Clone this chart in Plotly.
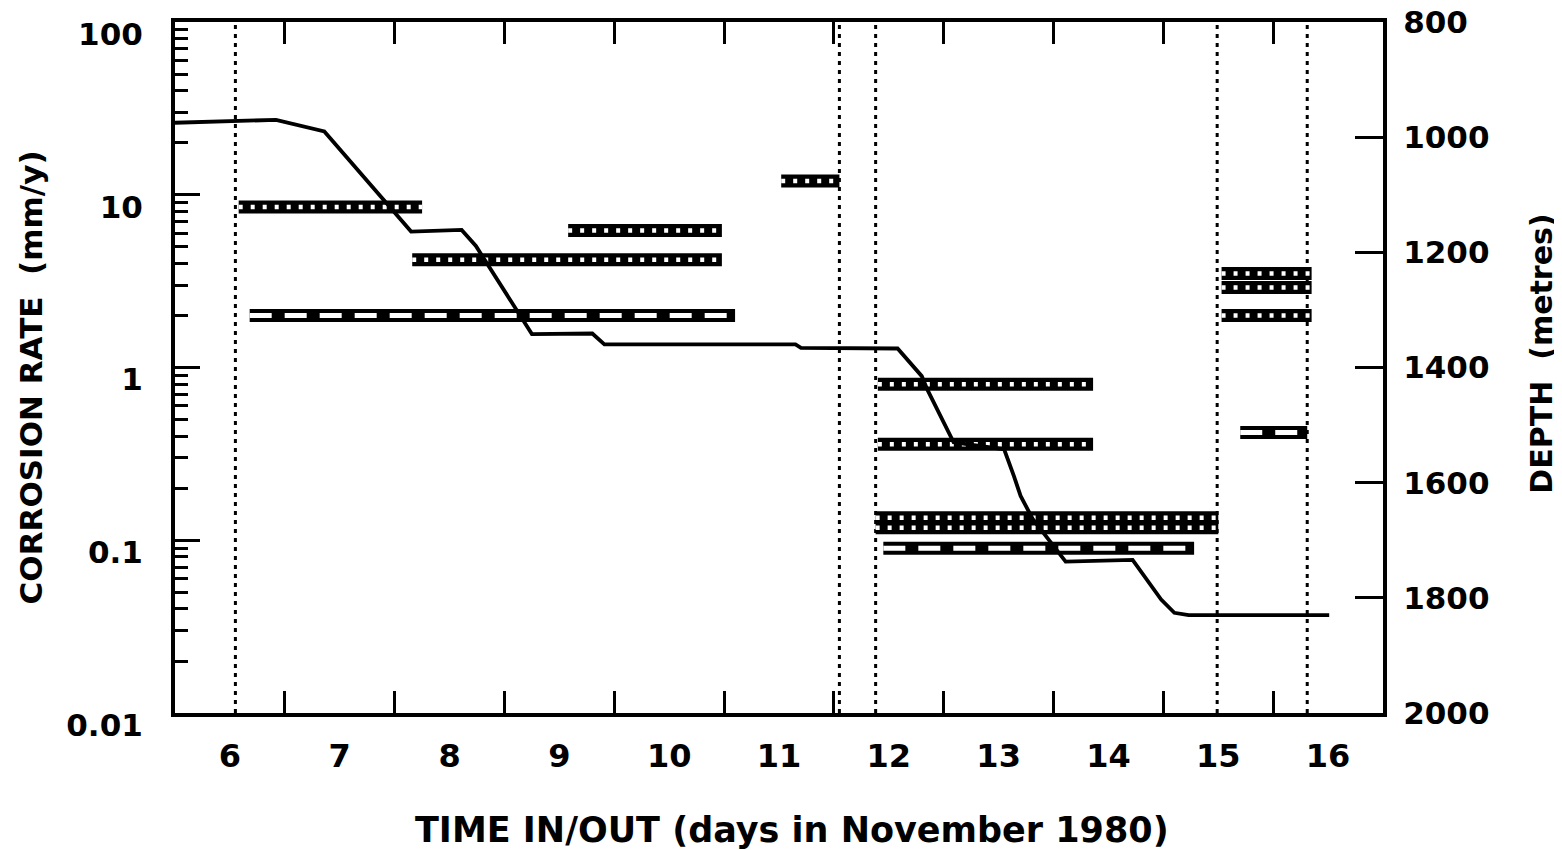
import plotly.graph_objects as go

# ---- axis labels / ticks ----
days = list(range(6, 17))
day_labels = [str(d) for d in days]
day_boundaries = [d + 0.5 for d in range(6, 16)]

rate_ticks = [0.01, 0.1, 1, 10, 100]
rate_labels = ["0.01", "0.1", "1", "10", "100"]
rate_minor = [m * 10 ** e for e in range(-2, 2) for m in range(2, 10)]
depth_ticks = [800, 1000, 1200, 1400, 1600, 1800, 2000]
depth_labels = [str(d) for d in depth_ticks]

x_title = "TIME IN/OUT (days in November 1980)"
y_title = "CORROSION RATE\u00a0\u00a0(mm/y)"
y2_title = "DEPTH\u00a0\u00a0(metres)"

# ---- time in / out markers ----
in_out_times = [6.05, 11.55, 11.88, 14.99, 15.81]

# ---- depth of probe (right axis) ----
depth_time = [5.5, 6.42, 6.86, 7.65, 8.11, 8.24, 8.75, 9.30, 9.41, 11.15, 11.20,
              12.08, 12.30, 12.35, 12.59, 13.05, 13.14, 13.20, 13.31, 13.61,
              14.22, 14.39, 14.48, 14.60, 14.73, 16.01]
depth_m = [975, 970, 990, 1164, 1161, 1189, 1342, 1341, 1360, 1360, 1366,
           1367, 1415, 1438, 1530, 1542, 1589, 1623, 1663, 1737,
           1734, 1781, 1803, 1826, 1830, 1830]

# ---- corrosion rate exposures, stippled coupons ----
dotted_start = [6.08, 7.66, 9.08, 11.02, 11.90, 11.90, 11.88, 11.88, 15.03, 15.03, 15.03]
dotted_end = [7.75, 10.48, 10.48, 11.55, 13.86, 13.86, 15.00, 15.00, 15.85, 15.85, 15.85]
dotted_rate = [8.5, 4.2, 6.2, 12.0, 0.80, 0.36, 0.135, 0.118, 3.5, 2.9, 2.0]

# ---- corrosion rate exposures, hatched coupons ----
hatched_start = [6.18, 11.95, 15.20]
hatched_end = [10.60, 14.78, 15.81]
hatched_rate = [2.0, 0.09, 0.42]


def segs(starts, ends, vals):
    xs, ys = [], []
    for s, e, v in zip(starts, ends, vals):
        xs += [s, e, None]
        ys += [v, v, None]
    return xs, ys


fig = go.Figure()

for t in in_out_times:
    fig.add_vline(x=t, line=dict(color="black", width=3, dash="4px,5px"), layer="below")

dx, dy = segs(dotted_start, dotted_end, dotted_rate)
fig.add_trace(go.Scatter(x=dx, y=dy, mode="lines", line=dict(color="black", width=13),
                         showlegend=False, hoverinfo="skip"))
fig.add_trace(go.Scatter(x=dx, y=dy, mode="lines", line=dict(color="white", width=4.5, dash="4px,8px"),
                         showlegend=False, hoverinfo="skip"))

hx, hy = segs(hatched_start, hatched_end, hatched_rate)
fig.add_trace(go.Scatter(x=hx, y=hy, mode="lines", line=dict(color="black", width=13),
                         showlegend=False, hoverinfo="skip"))
fig.add_trace(go.Scatter(x=hx, y=hy, mode="lines", line=dict(color="white", width=5, dash="22px,13px"),
                         showlegend=False, hoverinfo="skip"))

fig.add_trace(go.Scatter(x=depth_time, y=depth_m, mode="lines", yaxis="y2",
                         line=dict(color="black", width=3.8), showlegend=False))

bold = dict(family="DejaVu Sans", color="black", weight="bold")

# axis titles, placed as paper-referenced annotations
fig.add_annotation(text=x_title, xref="paper", yref="paper", x=0.511, y=-0.169,
                   xanchor="center", yanchor="middle", showarrow=False,
                   font=dict(size=35, **bold))
fig.add_annotation(text=y_title, xref="paper", yref="paper", x=-0.119, y=0.486,
                   xanchor="center", yanchor="middle", showarrow=False, textangle=-90,
                   font=dict(size=31, **bold))
fig.add_annotation(text=y2_title, xref="paper", yref="paper", x=1.1316, y=0.52,
                   xanchor="center", yanchor="middle", showarrow=False, textangle=-90,
                   font=dict(size=30, **bold))

# the page body adds an 8px margin, so the figure is sized/margined to compensate
fig.update_layout(
    width=1554, height=842,
    margin=dict(l=167, r=179, t=14, b=137),
    paper_bgcolor="white", plot_bgcolor="white",
    font=dict(family="DejaVu Sans", color="black"),
    xaxis=dict(
        range=[5.5, 16.5], tickvals=days, ticktext=day_labels, ticks="", ticklen=0,
        showline=True, linewidth=4, linecolor="black", mirror="ticks", automargin=False,
        showgrid=False, zeroline=False, ticklabelstandoff=12,
        tickfont=dict(size=32, **bold),
        minor=dict(tickvals=day_boundaries, ticks="inside", ticklen=22, tickwidth=3,
                   tickcolor="black", showgrid=False),
    ),
    yaxis=dict(
        type="log", range=[-2, 2], tickvals=rate_ticks, ticktext=rate_labels,
        ticks="inside", ticklen=25, tickwidth=3, tickcolor="black", automargin=False,
        showline=True, linewidth=4, linecolor="black", mirror=False,
        showgrid=False, zeroline=False, ticklabelstandoff=22, ticklabelshift=12,
        ticklabeloverflow="allow",
        tickfont=dict(size=31, **bold),
        minor=dict(tickvals=rate_minor, ticks="inside", ticklen=13, tickwidth=3,
                   tickcolor="black", showgrid=False),
    ),
    yaxis2=dict(
        overlaying="y", side="right", range=[2000, 800], tickvals=depth_ticks, ticktext=depth_labels,
        ticks="inside", ticklen=28, tickwidth=3, tickcolor="black", automargin=False,
        showline=True, linewidth=4, linecolor="black",
        showgrid=False, zeroline=False, ticklabelstandoff=10, ticklabeloverflow="allow",
        tickfont=dict(size=31, **bold),
    ),
)

fig.write_html("out.html")
